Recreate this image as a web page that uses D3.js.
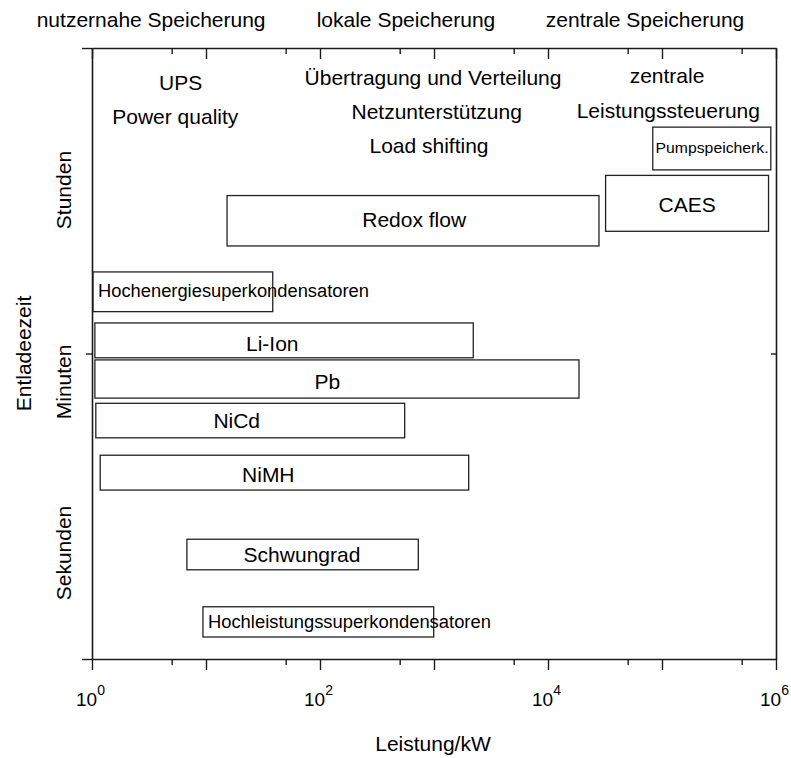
<!DOCTYPE html>
<html>
<head>
<meta charset="utf-8">
<script src="https://cdn.jsdelivr.net/npm/d3@7"></script>
<style>
  html, body { margin: 0; padding: 0; background: #fff; }
  svg { display: block; }
  text { font-family: "Liberation Sans", Arial, Helvetica, sans-serif; fill: #000; }
</style>
</head>
<body>
<svg id="chart" width="791" height="758"></svg>
<script>
// ---------- data ----------
const storageNames = ["Pumpspeicherk.", "CAES", "Redox flow", "Hochenergiesuperkondensatoren",
  "Li-Ion", "Pb", "NiCd", "NiMH", "Schwungrad", "Hochleistungssuperkondensatoren"];
const powerMinKW = [8.3e4, 3.2e4, 15.3, 1.02, 1.06, 1.06, 1.08, 1.18, 6.8, 9.4];
const powerMaxKW = [9.0e5, 8.6e5, 2.8e4, 38.5, 2210, 18700, 553, 2015, 728, 994];
const timeLow  = [1.601, 1.400, 1.352, 1.137, 0.986, 0.854, 0.724, 0.553, 0.292, 0.072];
const timeHigh = [1.741, 1.583, 1.517, 1.267, 1.100, 0.979, 0.837, 0.667, 0.392, 0.171];
// label anchor (kW, null = left aligned inside box) and label baseline (time units)
const labelKW   = [2.75e5, 1.66e5, 670, null, 38.1, 116, 18.6, 35.2, 69.5, null];
const labelTime = [1.657, 1.464, 1.415, 1.186, 1.009, 0.883, 0.755, 0.580, 0.317, 0.100];
const smallLabel = [true, false, false, true, false, false, false, false, false, true];

const applicationTexts = ["UPS", "Power quality", "Übertragung und Verteilung", "Netzunterstützung",
  "Load shifting", "zentrale", "Leistungssteuerung"];
const applicationKW   = [6.0, 5.38, 980, 1056, 904, 1.107e5, 1.136e5];
const applicationTime = [1.8625, 1.751, 1.879, 1.767, 1.655, 1.886, 1.770];

const headerTexts = ["nutzernahe Speicherung", "lokale Speicherung", "zentrale Speicherung"];
const headerKW = [3.3, 568, 7.1e4];
const headerTime = 2.070;

const timeCategories = ["Sekunden", "Minuten", "Stunden"];
const timeCategoryPos = [0.347, 0.907, 1.535];

const tickExponents = [0, 2, 4, 6];
const majorTicks = [1, 10, 100, 1e3, 1e4, 1e5, 1e6];
const minorTicks = [5, 50, 500, 5e3, 5e4, 5e5];

const xTitle = "Leistung/kW";
const yTitle = "Entladeezeit";

// ---------- layout ----------
const svg = d3.select("#chart");
const x = d3.scaleLog().domain([1, 1e6]).range([92, 776]);
const y = d3.scaleLinear().domain([0, 2]).range([659, 48]);
const axisColor = "#1a1a1a";
const font = "\"Liberation Sans\", Arial, Helvetica, sans-serif";

function styleAxis(g) {
  g.selectAll("path.domain").attr("stroke", axisColor).attr("stroke-width", 1.6);
  g.selectAll(".tick line").attr("stroke", axisColor).attr("stroke-width", 1.4);
  g.selectAll(".tick text").remove();
}

// bottom axis
svg.append("g").attr("transform", `translate(0,${y(0)})`)
  .call(d3.axisBottom(x).tickValues(majorTicks).tickSize(11).tickSizeOuter(0).tickFormat(""))
  .call(styleAxis);
svg.append("g").attr("transform", `translate(0,${y(0)})`)
  .call(d3.axisBottom(x).tickValues(minorTicks).tickSize(6).tickSizeOuter(0).tickFormat(""))
  .call(g => g.select("path.domain").remove()).call(styleAxis);
// top axis (ticks inward)
svg.append("g").attr("transform", `translate(0,${y(2)})`)
  .call(d3.axisTop(x).tickValues(majorTicks).tickSize(-11).tickSizeOuter(0).tickFormat(""))
  .call(styleAxis);
svg.append("g").attr("transform", `translate(0,${y(2)})`)
  .call(d3.axisTop(x).tickValues(minorTicks).tickSize(-6).tickSizeOuter(0).tickFormat(""))
  .call(g => g.select("path.domain").remove()).call(styleAxis);
// left axis
svg.append("g").attr("transform", `translate(${x(1)},0)`)
  .call(d3.axisLeft(y).tickValues([0, 2]).tickSize(10).tickSizeOuter(0).tickFormat(""))
  .call(styleAxis);
svg.append("g").attr("transform", `translate(${x(1)},0)`)
  .call(d3.axisLeft(y).tickValues([1]).tickSize(6).tickSizeOuter(0).tickFormat(""))
  .call(g => g.select("path.domain").remove()).call(styleAxis);
// right axis (tick inward)
svg.append("g").attr("transform", `translate(${x(1e6)},0)`)
  .call(d3.axisRight(y).tickValues([1]).tickSize(-5).tickSizeOuter(0).tickFormat(""))
  .call(styleAxis);

// x tick labels with superscript
const tl = svg.append("g").selectAll("text").data(tickExponents).join("text")
  .attr("x", d => x(Math.pow(10, d)) - 1.5)
  .attr("y", 706)
  .attr("text-anchor", "middle");
tl.append("tspan").attr("font-size", 19).text("10");
tl.append("tspan").attr("font-size", 14).attr("dy", -11).text(d => String(d));

// axis titles
svg.append("text").attr("x", 433).attr("y", 751).attr("text-anchor", "middle")
  .attr("font-size", 21).text(xTitle);
svg.append("text").attr("transform", `translate(31,${y(1)}) rotate(-90)`)
  .attr("text-anchor", "middle").attr("font-size", 21).text(yTitle);
svg.append("g").selectAll("text").data(timeCategories).join("text")
  .attr("transform", (d, i) => `translate(71,${y(timeCategoryPos[i])}) rotate(-90)`)
  .attr("text-anchor", "middle").attr("font-size", 21).text(d => d);

// header texts
svg.append("g").selectAll("text").data(headerTexts).join("text")
  .attr("x", (d, i) => x(headerKW[i])).attr("y", y(headerTime))
  .attr("text-anchor", "middle").attr("font-size", 21).text(d => d);

// application texts
svg.append("g").selectAll("text").data(applicationTexts).join("text")
  .attr("x", (d, i) => x(applicationKW[i])).attr("y", (d, i) => y(applicationTime[i]))
  .attr("text-anchor", "middle").attr("font-size", 21).text(d => d);

// boxes
const boxes = svg.append("g");
boxes.selectAll("rect").data(storageNames).join("rect")
  .attr("x", (d, i) => x(powerMinKW[i]))
  .attr("y", (d, i) => y(timeHigh[i]))
  .attr("width", (d, i) => x(powerMaxKW[i]) - x(powerMinKW[i]))
  .attr("height", (d, i) => y(timeLow[i]) - y(timeHigh[i]))
  .attr("fill", "none").attr("stroke", "#222").attr("stroke-width", 1.3);

// box labels
boxes.selectAll("text").data(storageNames).join("text")
  .attr("x", (d, i) => labelKW[i] == null ? x(powerMinKW[i]) + 5 : x(labelKW[i]))
  .attr("y", (d, i) => y(labelTime[i]))
  .attr("text-anchor", (d, i) => labelKW[i] == null ? "start" : "middle")
  .attr("font-size", (d, i) => smallLabel[i] ? (d === "Pumpspeicherk." ? 15 : 18) : 21)
  .each(function (d) {
    if (d === "Pumpspeicherk.") d3.select(this).attr("textLength", 113).attr("lengthAdjust", "spacingAndGlyphs");
    if (d === "Hochenergiesuperkondensatoren") d3.select(this).attr("textLength", 271).attr("lengthAdjust", "spacingAndGlyphs");
    if (d === "Hochleistungssuperkondensatoren") d3.select(this).attr("textLength", 283).attr("lengthAdjust", "spacingAndGlyphs");
  })
  .text(d => d);
</script>
</body>
</html>
